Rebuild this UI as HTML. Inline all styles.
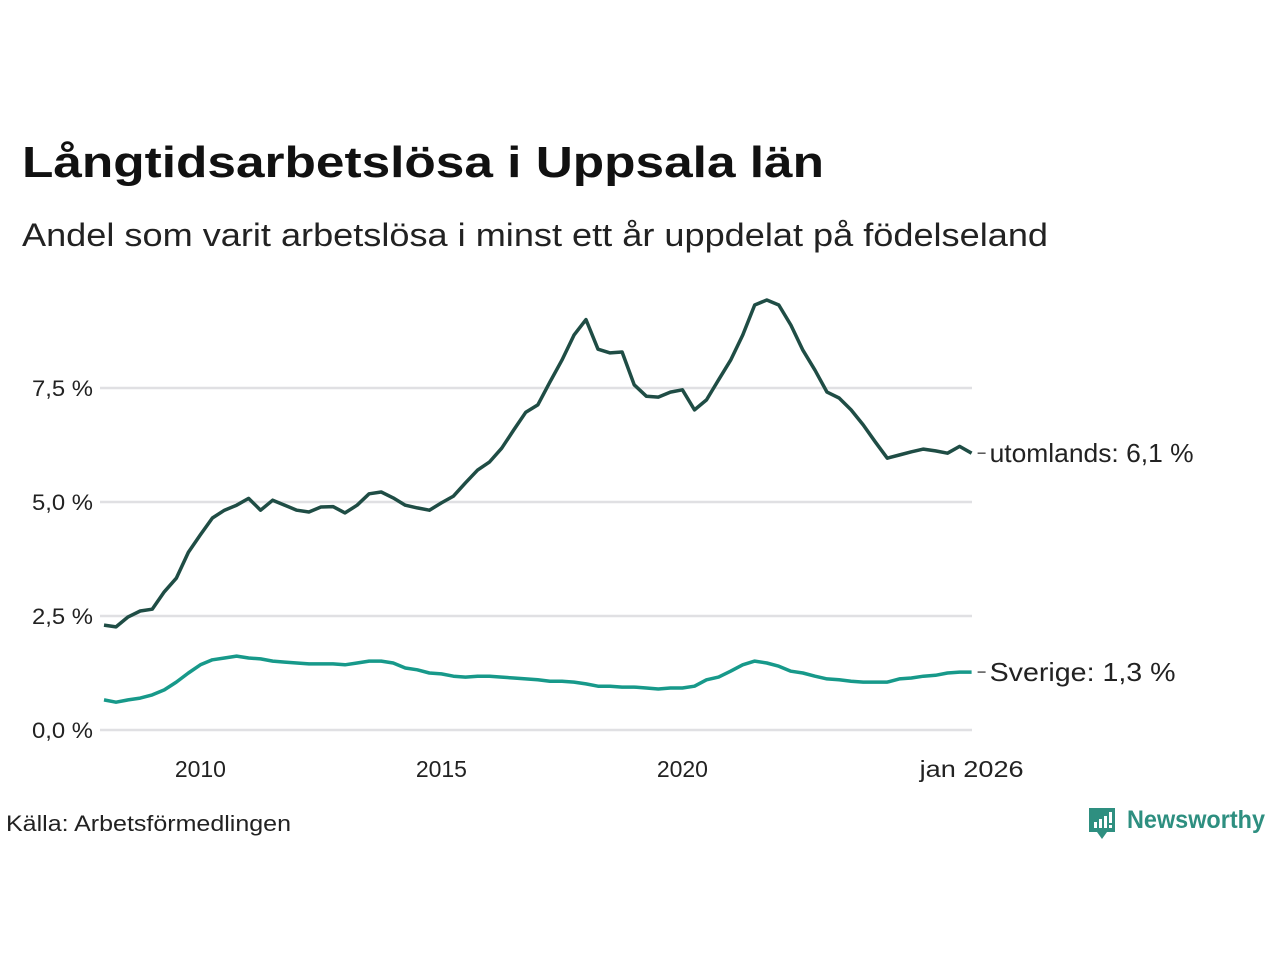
<!DOCTYPE html>
<html><head><meta charset="utf-8"><style>
body{margin:0;background:#fff;}
svg{display:block;font-family:"Liberation Sans","DejaVu Sans",sans-serif;}
</style></head><body>
<svg id="chart" width="1280" height="960" viewBox="0 0 1280 960">
<text x="22" y="177" font-size="44" font-weight="bold" fill="#111" textLength="802" lengthAdjust="spacingAndGlyphs">Långtidsarbetslösa i Uppsala län</text>
<text x="22" y="246" font-size="32" fill="#222" textLength="1026" lengthAdjust="spacingAndGlyphs">Andel som varit arbetslösa i minst ett år uppdelat på födelseland</text>
<g id="grid"></g>
<g id="yt"></g>
<g id="xt"></g>
<g id="lines"></g>
<text x="6" y="831" font-size="22" fill="#222" textLength="285" lengthAdjust="spacingAndGlyphs">Källa: Arbetsförmedlingen</text>
<g>
<path d="M1089 808 h26 v24 h-8 l-5 7 l-5 -7 h-8 z" fill="#2e8f80"/>
<rect x="1094" y="822" width="3" height="6" fill="#fff"/><rect x="1099" y="819" width="3" height="9" fill="#fff"/><rect x="1104" y="816" width="3" height="12" fill="#fff"/><rect x="1109" y="812" width="3" height="11" fill="#fff"/><rect x="1109" y="825" width="3" height="3" fill="#fff"/>
<text x="1127" y="828" font-size="25" font-weight="bold" fill="#2e8f80" textLength="138" lengthAdjust="spacingAndGlyphs">Newsworthy</text>
</g>
</svg>
<script>
const yTicks=[0,2.5,5,7.5];
const yTickLabels=["0,0 %","2,5 %","5,0 %","7,5 %"];
const xTicks=[2010,2015,2020,2026];
const xTickLabels=["2010","2015","2020","jan 2026"];
const startYear=2008;
const utomlands=[2.3,2.26,2.48,2.61, 2.65,3.03,3.33,3.9, 4.28,4.65,4.82,4.93, 5.08,4.82,5.04,4.93, 4.82,4.78,4.89,4.9, 4.76,4.93,5.18,5.22, 5.09,4.93,4.87,4.82, 4.98,5.13,5.42,5.7, 5.88,6.18,6.58,6.97, 7.13,7.63,8.11,8.66, 9.0,8.35,8.27,8.29, 7.57,7.32,7.3,7.41, 7.46,7.02,7.24,7.68, 8.11,8.66,9.32,9.43, 9.32,8.88,8.33,7.89, 7.41,7.28,7.02,6.69, 6.32,5.96,6.03,6.1, 6.16,6.12,6.07,6.22, 6.07];
const sverige=[.66,.61,.66,.70, .77,.88,1.05,1.25, 1.43,1.54,1.58,1.62, 1.58,1.56,1.51,1.49, 1.47,1.45,1.45,1.45, 1.43,1.47,1.51,1.51, 1.47,1.36,1.32,1.25, 1.23,1.18,1.16,1.18, 1.18,1.16,1.14,1.12, 1.10,1.07,1.07,1.05, 1.01,.96,.96,.94, .94,.92,.90,.92, .92,.96,1.10,1.16, 1.29,1.43,1.51,1.47, 1.40,1.29,1.25,1.18, 1.12,1.10,1.07,1.05, 1.05,1.05,1.12,1.14, 1.18,1.20,1.25,1.27, 1.27];
const endLabels=["utomlands: 6,1 %","Sverige: 1,3 %"];
const endLabelWidths=[204,186];

const NS="http://www.w3.org/2000/svg";
const X=yr=>104+(yr-2008)*48.2;
const Y=v=>730-v*45.6;
function mk(tag,attrs,parent,text){const e=document.createElementNS(NS,tag);for(const k in attrs)e.setAttribute(k,attrs[k]);if(text!==undefined)e.textContent=text;parent.appendChild(e);return e;}
const grid=document.getElementById('grid'),yt=document.getElementById('yt'),xt=document.getElementById('xt'),lines=document.getElementById('lines');
yTicks.forEach((t,i)=>{
  const l=mk('line',{x1:100,x2:972,y1:Y(t),y2:Y(t),stroke:'#e0e0e3','stroke-width':2.5},grid);
  
  
  const tx=mk('text',{x:93,y:Y(t)+8,'font-size':22,fill:'#222','text-anchor':'end',textLength:61,lengthAdjust:'spacingAndGlyphs'},yt,yTickLabels[i]);
  
  
});
xTicks.forEach((t,i)=>{
  const attrs={x:X(t),y:777,'font-size':23,fill:'#222','text-anchor':'middle'};
  if(i===3){attrs.textLength=104;attrs.lengthAdjust='spacingAndGlyphs';}
  const tx=mk('text',attrs,xt,xTickLabels[i]);
  
  
});
function series(vals,color,name,label,w){
  const d=vals.map((v,i)=>(i?'L':'M')+X(startYear+i*0.25).toFixed(1)+' '+Y(v).toFixed(1)).join(' ');
  const p=mk('path',{d:d,fill:'none',stroke:color,'stroke-width':3.5,'stroke-linejoin':'round'},lines);
  
  
  const last=vals[vals.length-1],lx=X(startYear+(vals.length-1)*0.25);
  mk('line',{x1:lx+6,x2:lx+14,y1:Y(last),y2:Y(last),stroke:'#555','stroke-width':1.5},lines);
  const t=mk('text',{x:lx+18,y:Y(last)+9,'font-size':26,fill:'#222',textLength:w,lengthAdjust:'spacingAndGlyphs'},lines,label);
  
  
}
series(sverige,'#17998a','line-sverige',endLabels[1],endLabelWidths[1]);
series(utomlands,'#1f4d45','line-utomlands',endLabels[0],endLabelWidths[0]);
</script>
</body></html>
